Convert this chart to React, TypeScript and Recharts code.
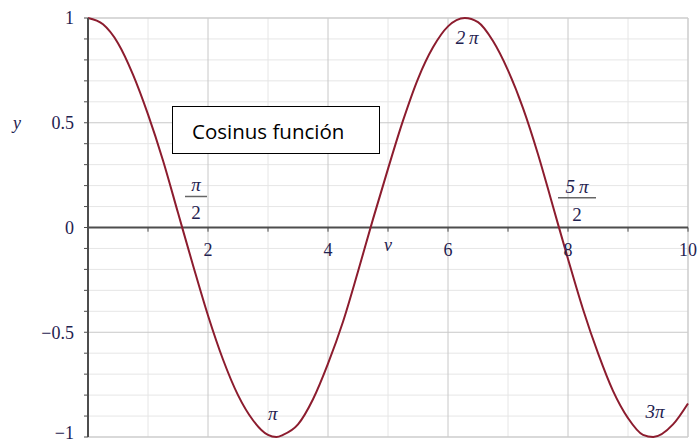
import React from 'react';
import { LineChart, Line, XAxis, YAxis, ReferenceLine, ReferenceDot } from 'recharts';

// curve values
const xValues = [
  0, 0.25, 0.5, 0.75, 1, 1.25, 1.5, 1.75, 2, 2.25, 2.5, 2.75, 3, 3.14, 3.25, 3.5, 3.75, 4, 4.25, 4.5,
  4.75, 5, 5.25, 5.5, 5.75, 6, 6.28, 6.5, 6.75, 7, 7.25, 7.5, 7.75, 8, 8.25, 8.5, 8.75, 9, 9.25, 9.42, 9.75, 10,
];
const yValues = [
  1.0, 0.97, 0.88, 0.73, 0.54, 0.32, 0.07, -0.18, -0.42, -0.63, -0.8, -0.92, -0.99, -1.0, -0.99, -0.94, -0.82, -0.65, -0.45, -0.21,
  0.04, 0.28, 0.51, 0.71, 0.86, 0.96, 1.0, 0.98, 0.89, 0.75, 0.57, 0.35, 0.1, -0.15, -0.39, -0.6, -0.78, -0.91, -0.99, -1.0, -0.94, -0.84,
];

const yTicks = [-1, -0.9, -0.8, -0.7, -0.6, -0.5, -0.4, -0.3, -0.2, -0.1, 0, 0.1, 0.2, 0.3, 0.4, 0.5, 0.6, 0.7, 0.8, 0.9, 1];
const yTickLabels: Record<string, string> = { '1': '1', '0.5': '0.5', '0': '0', '-0.5': '\u22120.5', '-1': '\u22121' };
const xTickLabels = [2, 4, 6, 8, 10];
const xTickMarks = [1, 2, 3, 4, 5, 6, 7, 8, 9, 10];

const minorX = [1, 3, 5, 7, 9];
const majorX = [2, 4, 6, 8];
const minorY = [-0.9, -0.8, -0.7, -0.6, -0.4, -0.3, -0.2, -0.1, 0.1, 0.2, 0.3, 0.4, 0.6, 0.7, 0.8, 0.9];
const majorY = [-0.5, 0.5];

const piLabels = [
  { text: '2\u2009\u03C0', x: 6.32, y: 0.875 },
  { text: '\u03C0', x: 3.08, y: -0.92 },
  { text: '3\u03C0', x: 9.45, y: -0.91 },
];
const piFractions = [
  { num: '\u03C0', x: 1.8, y: 0.148 },
  { num: '5\u2009\u03C0', x: 8.15, y: 0.142 },
];

const data = xValues.map((x, i) => ({ x, y: yValues[i] }));

const serif = '"Liberation Serif", "DejaVu Serif", serif';
const textColor = '#1f2250';
const minorColor = '#e6e6e6';
const majorColor = '#c8c8c8';
const axisColor = '#4d4d4d';

const YTick = (props: any) => {
  const { x, y, payload } = props;
  const label = yTickLabels[String(payload.value)];
  if (!label) return null;
  // bottom label sits on the window edge, nudge it up so it stays whole
  const shift = payload.value === -1 ? -4 : 0;
  return (
    <text x={x} y={y + shift} dy="0.35em" textAnchor="end" fill={textColor} fontFamily={serif} fontSize={18}>
      {label}
    </text>
  );
};

export default function App() {
  return (
    <div style={{ position: 'absolute', left: 0, top: 0, width: 699, height: 444, background: '#fff' }}>
      <LineChart width={699} height={444} data={data} margin={{ top: 18, right: 11, bottom: 7, left: 0 }}>
        <XAxis type="number" dataKey="x" domain={[0, 10]} hide />
        <YAxis
          type="number"
          domain={[-1, 1]}
          ticks={yTicks}
          interval={0}
          width={88}
          tickSize={4}
          tickMargin={10}
          axisLine={{ stroke: axisColor, strokeWidth: 2 }}
          tickLine={{ stroke: axisColor }}
          tick={<YTick />}
        />

        {minorX.map((v) => (
          <ReferenceLine key={'mx' + v} x={v} stroke={minorColor} />
        ))}
        {minorY.map((v) => (
          <ReferenceLine key={'my' + v} y={v} stroke={minorColor} />
        ))}
        {majorX.map((v) => (
          <ReferenceLine key={'Mx' + v} x={v} stroke={majorColor} />
        ))}
        {majorY.map((v) => (
          <ReferenceLine key={'My' + v} y={v} stroke={majorColor} />
        ))}
        <ReferenceLine x={10} stroke="#cccccc" strokeWidth={1.5} />
        <ReferenceLine y={1} stroke="#cccccc" strokeWidth={1.5} />
        <ReferenceLine y={-1} stroke="#cccccc" strokeWidth={1.5} />

        <ReferenceLine y={0} stroke={axisColor} strokeWidth={2} />
        {xTickMarks.map((v) => (
          <ReferenceLine key={'t' + v} segment={[{ x: v, y: 0 }, { x: v, y: -0.02 }]} stroke={axisColor} />
        ))}
        {xTickLabels.map((v) => (
          <ReferenceDot
            key={'l' + v}
            x={v}
            y={0}
            r={0}
            shape={(p: any) => (
              <text x={p.cx} y={p.cy + 28} textAnchor="middle" fill={textColor} fontFamily={serif} fontSize={18}>
                {v}
              </text>
            )}
          />
        ))}
        <ReferenceDot
          x={5}
          y={0}
          r={0}
          shape={(p: any) => (
            <text x={p.cx} y={p.cy + 23} textAnchor="middle" fill={textColor} fontFamily={serif} fontSize={18} fontStyle="italic">
              v
            </text>
          )}
        />
        <ReferenceDot
          x={0}
          y={0.5}
          r={0}
          shape={(p: any) => (
            <text x={p.cx - 71} y={p.cy + 6} textAnchor="middle" fill={textColor} fontFamily={serif} fontSize={18} fontStyle="italic">
              y
            </text>
          )}
        />

        {piLabels.map((l) => (
          <ReferenceDot
            key={l.text}
            x={l.x}
            y={l.y}
            r={0}
            shape={(p: any) => (
              <text x={p.cx} y={p.cy} textAnchor="middle" fill={textColor} fontFamily={serif} fontSize={19} fontStyle="italic">
                {l.text}
              </text>
            )}
          />
        ))}
        {piFractions.map((f) => (
          <ReferenceDot
            key={f.num}
            x={f.x}
            y={f.y}
            r={0}
            shape={(p: any) => {
              const half = f.num.length > 1 ? 19 : 11;
              return (
                <g>
                  <text x={p.cx} y={p.cy - 5} textAnchor="middle" fill={textColor} fontFamily={serif} fontSize={19} fontStyle="italic">
                    {f.num}
                  </text>
                  <line x1={p.cx - half} x2={p.cx + half} y1={p.cy} y2={p.cy} stroke="#666" strokeWidth={1.5} />
                  <text x={p.cx} y={p.cy + 23} textAnchor="middle" fill={textColor} fontFamily={serif} fontSize={19}>
                    2
                  </text>
                </g>
              );
            }}
          />
        ))}

        <Line type="monotone" dataKey="y" stroke="#8c1c2e" strokeWidth={2} dot={false} isAnimationActive={false} />
      </LineChart>
      <div
        style={{
          position: 'absolute',
          left: 172,
          top: 106,
          width: 208,
          height: 48,
          border: '1px solid #000',
          background: '#fff',
          fontFamily: '"Open Sans", sans-serif',
          fontSize: 20.5,
          color: '#000',
          paddingLeft: 19,
          boxSizing: 'border-box',
          lineHeight: '48px',
        }}
      >
        Cosinus función
      </div>
    </div>
  );
}
